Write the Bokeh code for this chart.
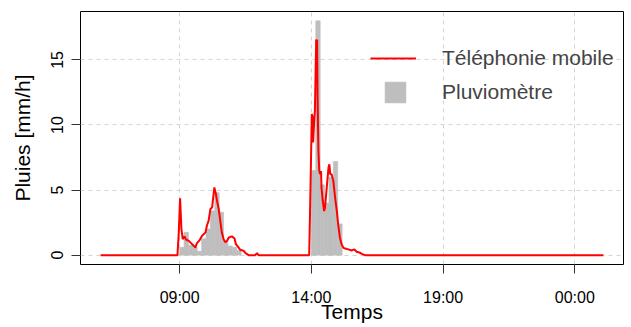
from bokeh.plotting import figure
from bokeh.models import Range1d, FixedTicker, Legend, LegendItem
from bokeh.embed import file_html
from bokeh.resources import INLINE

# --- data ---
line_time = ["06:00", "08:55", "08:58", "09:01", "09:04", "09:07", "09:11", "09:15", "09:21",
             "09:28", "09:36", "09:39", "09:46", "09:51", "09:59", "10:02", "10:06", "10:10",
             "10:14", "10:16", "10:19", "10:22", "10:25", "10:29", "10:33", "10:36", "10:40",
             "10:44", "10:48", "10:52", "10:59", "11:05", "11:08", "11:14", "11:18", "11:26",
             "11:30", "11:37", "11:52", "11:56", "12:00", "13:55", "13:57", "14:01", "14:03",
             "14:04", "14:06", "14:08", "14:11", "14:13", "14:14", "14:16", "14:18", "14:20",
             "14:22", "14:23", "14:26", "14:29", "14:31", "14:35", "14:39", "14:41", "14:43",
             "14:46", "14:50", "14:54", "14:58", "15:01", "15:05", "15:09", "15:13", "15:17",
             "15:24", "15:32", "15:38", "15:43", "15:51", "15:55", "16:02", "01:05"]
line_value = [0, 0, 1.75, 4.37, 2.0, 1.23, 1.44, 1.18, 1.1,
              0.85, 0.59, 0.9, 1.18, 1.49, 1.75, 2.26, 2.65, 3.54,
              3.67, 4.3, 5.2, 4.8, 4.19, 3.54, 2.5, 1.75, 1.23,
              0.98, 1.1, 1.36, 1.44, 1.28, 0.85, 0.59, 0.41, 0.33,
              0.15, 0, 0, 0.15, 0, 0, 3.39, 10.84, 10.58,
              8.65, 10.07, 11.1, 16.54, 16.49, 12.38, 8.0, 6.47, 6.21,
              6.47, 5.19, 4.16, 3.39, 3.65, 5.19, 6.73, 6.98, 6.21,
              6.21, 5.7, 4.42, 3.39, 2.36, 1.34, 0.82, 0.56, 0.51,
              0.44, 0.36, 0.44, 0.26, 0.18, 0.1, 0, 0]

bar_start = ["09:00", "09:10", "09:20", "09:30", "09:40", "09:50", "10:00", "10:10", "10:20",
             "10:30", "10:40", "10:50", "11:00", "11:10",
             "14:00", "14:10", "14:20", "14:30", "14:40", "14:50", "15:00"]
bar_value = [0.6, 1.75, 0.75, 0.6, 0.3, 1.25, 2.0, 3.4, 4.8,
             3.3, 1.1, 0.7, 0.6, 0.35,
             6.5, 18.0, 5.4, 4.0, 6.0, 7.2, 2.4]

tick_labels = ["09:00", "14:00", "19:00", "00:00"]
y_ticks = [0, 5, 10, 15]

series_line = "Téléphonie mobile"
series_bar = "Pluviomètre"
x_title = "Temps"
y_title = "Pluies [mm/h]"


def to_hours(s):
    h, m = map(int, s.split(":"))
    v = h + m / 60.0
    if v < 6:
        v += 24
    return v


lx = [to_hours(t) for t in line_time]
bx = [to_hours(t) + 5 / 60.0 for t in bar_start]
bar_w = 10 / 60.0
tick_pos = [to_hours(t) for t in tick_labels]

xmin, xmax = min(lx), max(lx)
xpad = 0.04 * (xmax - xmin)
ymax = max(max(bar_value), max(line_value))
ypad = 0.04 * ymax

FONT = "Liberation Sans"

p = figure(width=631, height=327, output_backend="svg", toolbar_location=None,
           x_range=Range1d(xmin - xpad, xmax + xpad),
           y_range=Range1d(-ypad, ymax + ypad),
           min_border_left=80, min_border_right=8, min_border_top=11, min_border_bottom=63)

p.background_fill_color = "white"
p.border_fill_color = "white"
p.outline_line_color = "black"
p.outline_line_width = 1

bars = p.vbar(x=bx, top=bar_value, bottom=0, width=bar_w,
              fill_color="#BEBEBE", line_color="#BEBEBE", line_width=0.6)
ln = p.line(x=lx, y=line_value, line_color="#FF0000", line_width=2)

# axes
p.xaxis.ticker = FixedTicker(ticks=tick_pos)
p.xaxis.major_label_overrides = {int(round(t)): lab for t, lab in zip(tick_pos, tick_labels)}
p.yaxis.ticker = FixedTicker(ticks=y_ticks)
p.xaxis.axis_label = x_title
p.yaxis.axis_label = y_title

for ax in (p.xaxis, p.yaxis):
    ax.axis_line_color = None
    ax.major_tick_line_color = "#333333"
    ax.major_tick_out = 9
    ax.major_tick_in = 0
    ax.minor_tick_line_color = None
    ax.major_label_text_font = FONT
    ax.major_label_text_font_size = "16px"
    ax.major_label_text_color = "black"
    ax.axis_label_text_font = FONT
    ax.axis_label_text_font_size = "21px"
    ax.axis_label_text_font_style = "normal"
    ax.axis_label_text_color = "black"

p.xaxis.major_label_standoff = 15
p.xaxis.axis_label_standoff = -9
p.yaxis.major_label_orientation = "vertical"
p.yaxis.major_label_standoff = 8
p.yaxis.axis_label_standoff = 15

for g in (p.xgrid, p.ygrid):
    g.grid_line_color = "#D3D3D3"
    g.grid_line_dash = "4 4"
    g.grid_line_width = 1
p.xgrid.ticker = FixedTicker(ticks=tick_pos)
p.ygrid.ticker = FixedTicker(ticks=y_ticks)

leg1 = Legend(items=[LegendItem(label=series_line, renderers=[ln])],
              location=(290, 194), glyph_width=46, glyph_height=20, label_standoff=26,
              padding=0, margin=0, spacing=0, border_line_color=None,
              background_fill_alpha=0, label_text_font=FONT, label_text_font_size="21px",
              label_height=20)
leg2 = Legend(items=[LegendItem(label=series_bar, renderers=[bars])],
              location=(302, 159), glyph_width=26, glyph_height=26, label_standoff=34,
              padding=0, margin=0, spacing=0, border_line_color=None,
              background_fill_alpha=0, label_text_font=FONT, label_text_font_size="21px",
              label_height=20)
p.add_layout(leg1)
p.add_layout(leg2)

open("out.html", "w").write(file_html(p, INLINE))
